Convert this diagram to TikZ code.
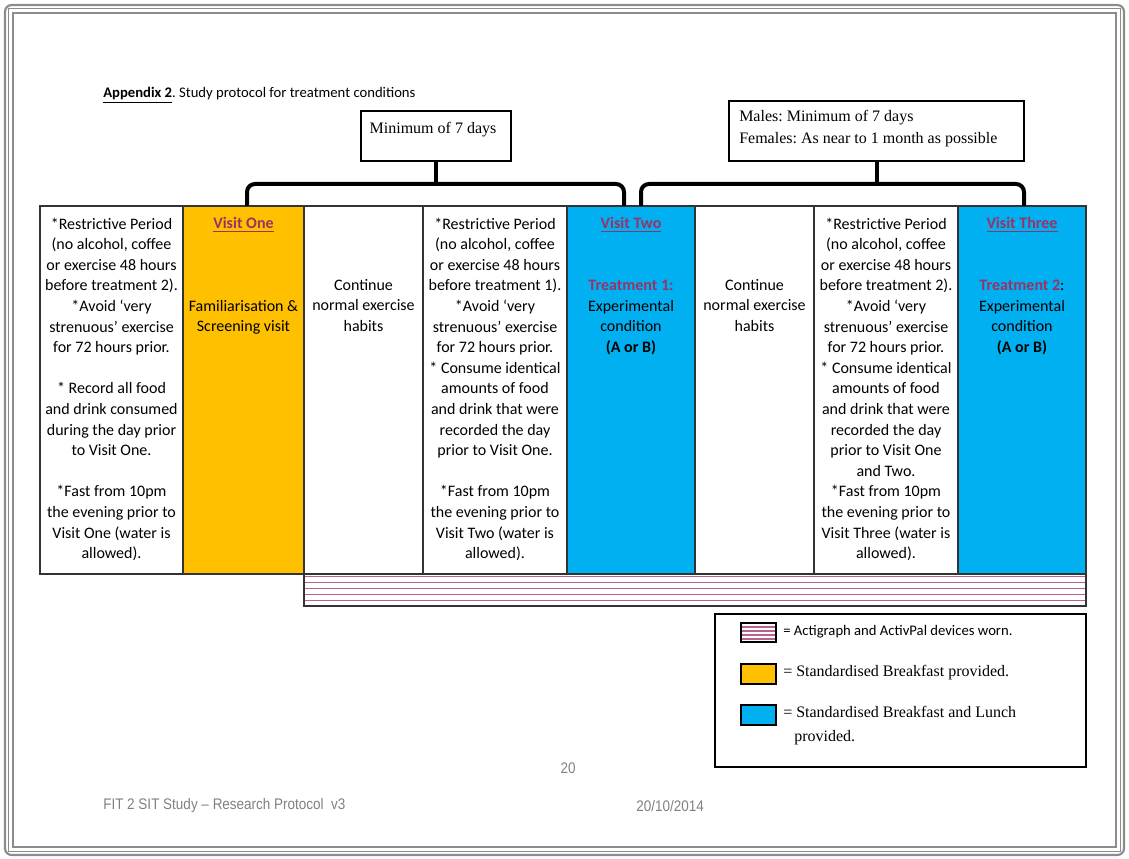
\documentclass[tikz,border=0pt]{standalone}
\usepackage{fontspec}
\setmainfont{Liberation Serif}
\newfontfamily\calib{Carlito}
\newfontfamily\narrowsf[FakeStretch=0.88]{Liberation Sans}
\usetikzlibrary{positioning}
\frenchspacing
\definecolor{bfast}{HTML}{FFC000}
\definecolor{lunch}{HTML}{00B0F0}
\definecolor{visitred}{HTML}{993366}
\definecolor{stripe}{HTML}{B8608E}
\definecolor{pageframe}{HTML}{8C8C8C}
\definecolor{foot}{HTML}{808080}
\tikzset{
  gridline/.style={draw=black!80, line width=1.1pt},
  daysbox/.style={draw, line width=0.9pt, inner sep=0pt},
  brace/.style={line width=3pt, rounded corners=6pt},
  coltext/.style={anchor=north, align=center, inner sep=0pt,
    font=\calib\fontsize{12}{15.45}\selectfont},
  keytext/.style={anchor=west, inner sep=0pt, font=\fontsize{12}{18}\selectfont},
  swatch/.style={draw=black, line width=1pt},
  foottxt/.style={inner sep=0pt, text=foot, font=\narrowsf\fontsize{11.5}{13}\selectfont}
}
\begin{document}
\begin{tikzpicture}[x=0.75pt,y=-0.75pt]
\useasboundingbox (0,0) rectangle (1129,859);
% page frame
\draw[pageframe, line width=1.6pt, rounded corners=5pt] (5,5) rectangle (1124,855);
\draw[pageframe, line width=0.8pt] (8.5,8.5) rectangle (1120.5,851.5);
\draw[pageframe, line width=1.6pt] (13,13) rectangle (1116,847);

\node[anchor=base west, inner sep=0pt, font=\calib\fontsize{11}{13}\selectfont] (title) at (103,98)
  {\underline{\textbf{Appendix 2}}. Study protocol for treatment conditions};

% gaps between visits
\node[daysbox, minimum width=112.5pt, minimum height=37.5pt] (gap1) at (436,136) {};
\node[anchor=north, inner sep=0pt, font=\fontsize{12}{14}\selectfont] (gap1txt) at (433,122) {Minimum of 7 days};
\node[daysbox, minimum width=221.25pt, minimum height=45pt] (gap2) at (876.5,131) {};
\node[anchor=north west, inner sep=0pt, align=left, font=\fontsize{12}{16.5}\selectfont] (gap2txt) at (739,110)
  {Males: Minimum of 7 days\\Females: As near to 1 month as possible};

% columns
\fill[bfast] (183,206) rectangle (304,574);
\fill[lunch] (567,206) rectangle (695,574);
\fill[lunch] (958,206) rectangle (1086,574);
\foreach \y in {576.5,582.5,...,600.5}
  \draw[stripe, line width=1.4pt] (304,\y) -- (1086,\y);
\draw[gridline] (304,574) -- (304,606) -- (1086,606) -- (1086,574);
\draw[gridline] (40,206) rectangle (1086,574);
\foreach \x in {183,304,423,567,695,814,958}
  \draw[gridline] (\x,206) -- (\x,574);

\coordinate (v1) at (247,206);
\coordinate (v2a) at (624,206);
\coordinate (v2b) at (641,206);
\coordinate (v3) at (1024,206);
\draw[brace] (gap1.south) -- (gap1.south |- 0,184);
\draw[brace] (v1) |- (gap1.south |- 0,184) -| (v2a);
\draw[brace] (gap2.south) -- (gap2.south |- 0,184);
\draw[brace] (v2b) |- (gap2.south |- 0,184) -| (v3);

\node[coltext] (prep1) at (111.5,217.5) {*Restrictive Period\\(no alcohol, coffee\\or exercise 48 hours\\before treatment 2).\\*Avoid ‘very\\strenuous’ exercise\\for 72 hours prior.\\[15.45pt]* Record all food\\and drink consumed\\during the day prior\\to Visit One.\\[15.45pt]*Fast from 10pm\\the evening prior to\\Visit One (water is\\allowed).};
\node[coltext] (visit1) at (243.5,217.5) {\textcolor{visitred}{\underline{\textbf{Visit One}}}\\[46.35pt]Familiarisation \&\\Screening visit};
\node[coltext] (habit1) at (363.5,279) {Continue\\normal exercise\\habits};
\node[coltext] (prep2) at (495,217.5) {*Restrictive Period\\(no alcohol, coffee\\or exercise 48 hours\\before treatment 1).\\*Avoid ‘very\\strenuous’ exercise\\for 72 hours prior.\\* Consume identical\\amounts of food\\and drink that were\\recorded the day\\prior to Visit One.\\[15.45pt]*Fast from 10pm\\the evening prior to\\Visit Two (water is\\allowed).};
\node[coltext] (visit2) at (631,217.5) {\textcolor{visitred}{\underline{\textbf{Visit Two}}}\\[30.9pt]\textcolor{visitred}{\textbf{Treatment 1:}}\\Experimental\\condition\\\textbf{(A or B)}};
\node[coltext] (habit2) at (754.5,279) {Continue\\normal exercise\\habits};
\node[coltext] (prep3) at (886,217.5) {*Restrictive Period\\(no alcohol, coffee\\or exercise 48 hours\\before treatment 2).\\*Avoid ‘very\\strenuous’ exercise\\for 72 hours prior.\\* Consume identical\\amounts of food\\and drink that were\\recorded the day\\prior to Visit One\\and Two.\\*Fast from 10pm\\the evening prior to\\Visit Three (water is\\allowed).};
\node[coltext] (visit3) at (1022,217.5) {\textcolor{visitred}{\underline{\textbf{Visit Three}}}\\[30.9pt]\textcolor{visitred}{\textbf{Treatment 2}}:\\Experimental\\condition\\\textbf{(A or B)}};

% key
\draw[line width=1.1pt] (715,614) rectangle (1086,767);
\foreach \y in {627,631,635,639}
  \draw[stripe, line width=0.8pt] (741,\y) -- (776,\y);
\draw[swatch] (741,623) rectangle (776,642);
\filldraw[swatch, fill=bfast] (741,664) rectangle (776,684);
\filldraw[swatch, fill=lunch] (741,705) rectangle (776,725);
\node[keytext, font=\calib\fontsize{11}{13}\selectfont] (key1) at (783,632) {= Actigraph and ActivPal devices worn.};
\node[keytext] (key2) at (783,673) {= Standardised Breakfast provided.};
\node[keytext, anchor=north west, align=left] (key3) at (783,706) {= Standardised Breakfast and Lunch\\\hspace{8.3pt}provided.};

\node[foottxt] (pageno) at (568,768) {20};
\node[foottxt, anchor=west] (footl) at (103,806) {FIT 2 SIT Study – Research Protocol\ \ v3};
\node[foottxt, anchor=west] (footr) at (636,806) {20/10/2014};
\end{tikzpicture}
\end{document}
